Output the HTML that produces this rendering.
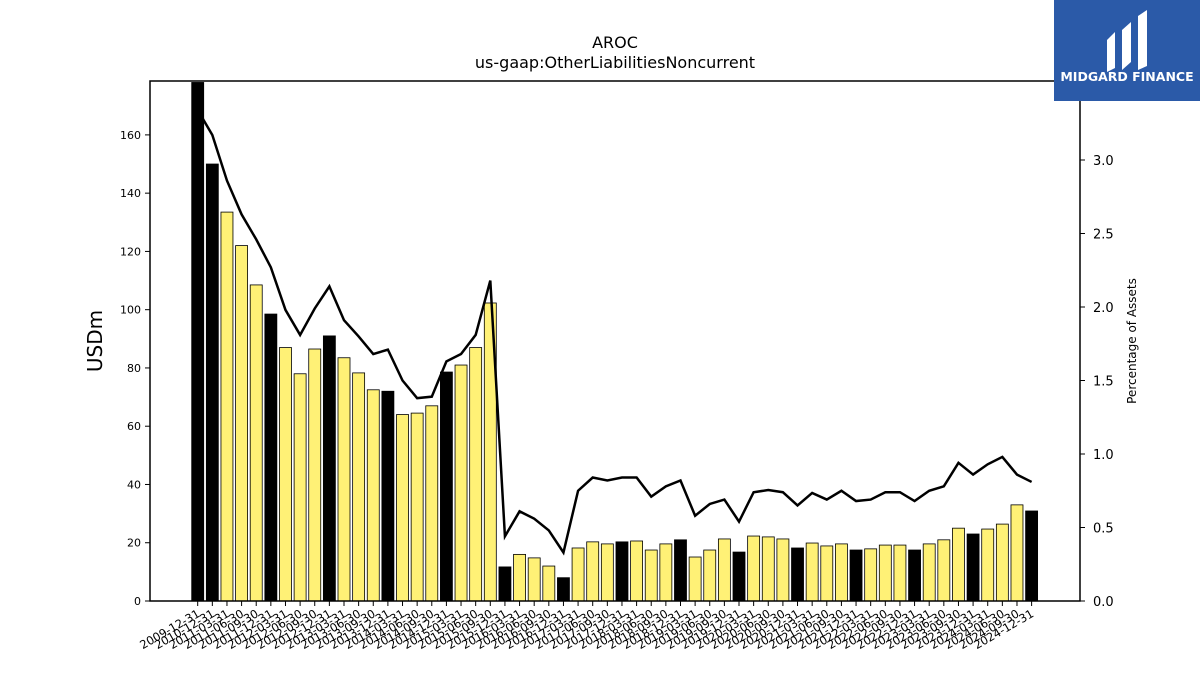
<!DOCTYPE html>
<html><head><meta charset="utf-8"><style>
body{margin:0;background:#fff;font-family:"Liberation Sans","DejaVu Sans",sans-serif}
svg text{font-family:"DejaVu Sans","Liberation Sans",sans-serif}
</style></head><body>
<svg id="chart" width="1200" height="675" xmlns="http://www.w3.org/2000/svg">
<rect width="1200" height="675" fill="#fff"/>
<text x="615" y="48" font-size="16" text-anchor="middle">AROC</text>
<text x="615" y="68" font-size="16" text-anchor="middle">us-gaap:OtherLiabilitiesNoncurrent</text>
<g id="bars"></g>
<g id="line"></g>
<rect x="150" y="81" width="930" height="520" fill="none" stroke="#000" stroke-width="1.5"/>
<g id="yl"></g>
<g id="yr"></g>
<g id="xa"></g>
<text transform="translate(102,341) rotate(-90)" font-size="20" text-anchor="middle">USDm</text>
<text transform="translate(1136,341) rotate(-90)" font-size="12" text-anchor="middle">Percentage of Assets</text>
<g>
<rect x="1054" y="0" width="146" height="101" fill="#2b5aa8"/>
<path d="M1107 40 L1115 32 L1115 68 L1107 72Z M1122 30 L1131 22 L1131 62 L1122 70Z M1138 16 L1147 10 L1147 66 L1138 70Z" fill="#fff"/>
<text x="1127" y="81" font-size="12.5" font-weight="bold" fill="#fff" text-anchor="middle">MIDGARD FINANCE</text>
</g>
</svg>
<script>
const labels=["2009-12-31","2010-12-31"];
for(let y=2011;y<=2024;y++){["03-31","06-30","09-30","12-31"].forEach(s=>labels.push(y+"-"+s));}
const values=[178,150,133.5,122,108.5,98.5,87,78,86.5,91,83.5,78.3,72.5,72,64,64.5,67,78.6,81,87,102.3,11.7,16,14.8,12,8,18.2,20.3,19.6,20.3,20.6,17.5,19.6,21,15.1,17.5,21.3,16.8,22.3,22,21.3,18.2,19.9,18.9,19.6,17.5,17.9,19.2,19.2,17.5,19.6,21,25,23,24.7,26.4,33,30.9];
const pct=[3.34,3.17,2.86,2.63,2.46,2.27,1.98,1.81,1.99,2.14,1.91,1.80,1.68,1.71,1.50,1.38,1.39,1.63,1.68,1.81,2.18,0.44,0.61,0.56,0.48,0.33,0.75,0.84,0.82,0.84,0.84,0.71,0.78,0.82,0.58,0.66,0.69,0.54,0.74,0.755,0.74,0.65,0.735,0.69,0.75,0.68,0.69,0.74,0.74,0.68,0.75,0.78,0.94,0.86,0.93,0.98,0.86,0.81];
const leftTicks=[0,20,40,60,80,100,120,140,160];
const rightTicks=[0,0.5,1,1.5,2,2.5,3];
const NS="http://www.w3.org/2000/svg";
const x0=197.7,step=14.63,bw=12,base=601;
const xs=i=>x0+i*step;
const yL=v=>base-v*(520/178.5);
const yR=v=>base-v*147;
function mk(t,a,p){const e=document.createElementNS(NS,t);for(const k in a)e.setAttribute(k,a[k]);p.appendChild(e);return e;}
const bars=document.getElementById('bars');
values.forEach((v,i)=>{
 const top=Math.max(yL(v),81);
 const r=mk('rect',{x:xs(i)-bw/2,y:top,width:bw,height:base-top,fill:labels[i].endsWith('12-31')?'#000':'#fff176',stroke:'#000','stroke-width':0.8},bars);
 
 
});
const lp=mk('polyline',{points:pct.map((v,i)=>xs(i)+','+yR(v)).join(' '),fill:'none',stroke:'#000','stroke-width':2.5},document.getElementById('line'));


const yl=document.getElementById('yl');
leftTicks.forEach(v=>{const y=yL(v);mk('line',{x1:145,x2:150,y1:y,y2:y,stroke:'#000'},yl);
 const t=mk('text',{x:141,y:y+4,'font-size':11,'text-anchor':'end'},yl);t.textContent=v;
 });
const yr=document.getElementById('yr');
rightTicks.forEach(v=>{const y=yR(v);mk('line',{x1:1080,x2:1085,y1:y,y2:y,stroke:'#000'},yr);
 const t=mk('text',{x:1093,y:y+5,'font-size':13},yr);t.textContent=v.toFixed(1);
 });
const xa=document.getElementById('xa');
labels.forEach((l,i)=>{const x=xs(i);mk('line',{x1:x,x2:x,y1:601,y2:606,stroke:'#000'},xa);
 const t=mk('text',{transform:`translate(${x+3},${616}) rotate(-30)`,'font-size':11.5,'text-anchor':'end'},xa);t.textContent=l;
 });
</script>
</body></html>
